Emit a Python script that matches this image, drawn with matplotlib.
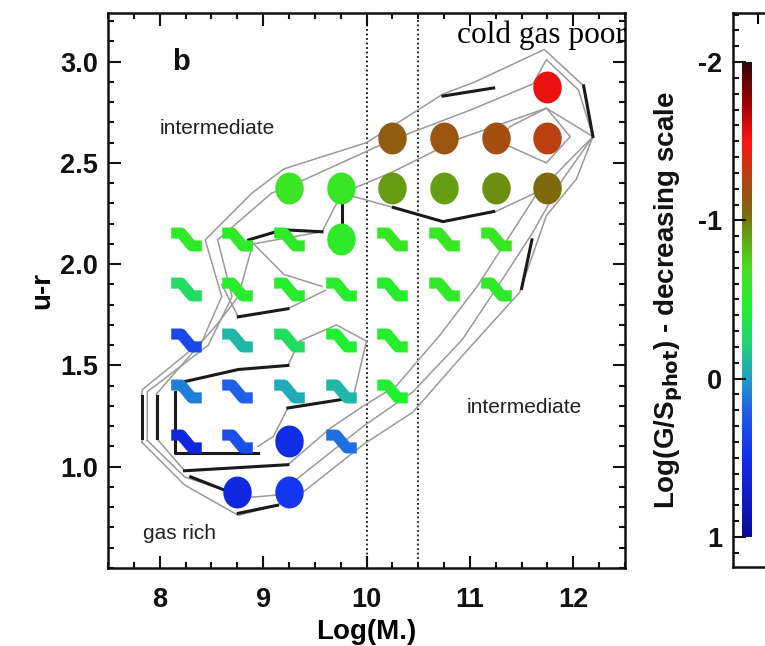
import matplotlib
matplotlib.use("Agg")
import matplotlib.pyplot as plt
import numpy as np
from matplotlib.colors import LinearSegmentedColormap
from matplotlib.path import Path

plt.rcParams["font.family"] = ["Liberation Sans", "DejaVu Sans"]

# binned points: stellar mass, u-r colour, log gas fraction, symbol
log_mass = [11.75,
            10.25, 10.75, 11.25, 11.75,
            9.25, 9.75, 10.25, 10.75, 11.25, 11.75,
            8.25, 8.75, 9.25, 9.75, 10.25, 10.75, 11.25,
            8.25, 8.75, 9.25, 9.75, 10.25, 10.75, 11.25,
            8.25, 8.75, 9.25, 9.75, 10.25,
            8.25, 8.75, 9.25, 9.75, 10.25,
            8.25, 8.75, 9.25, 9.75,
            8.75, 9.25]
u_r = [2.875,
       2.625, 2.625, 2.625, 2.625,
       2.375, 2.375, 2.375, 2.375, 2.375, 2.375,
       2.125, 2.125, 2.125, 2.125, 2.125, 2.125, 2.125,
       1.875, 1.875, 1.875, 1.875, 1.875, 1.875, 1.875,
       1.625, 1.625, 1.625, 1.625, 1.625,
       1.375, 1.375, 1.375, 1.375, 1.375,
       1.125, 1.125, 1.125, 1.125,
       0.875, 0.875]
gas_ratio = [-1.55,
             -1.12, -1.16, -1.2, -1.28,
             -0.62, -0.6, -0.92, -0.92, -0.95, -1.05,
             -0.55, -0.55, -0.55, -0.55, -0.6, -0.6, -0.6,
             -0.3, -0.5, -0.5, -0.5, -0.5, -0.55, -0.55,
             0.35, -0.1, -0.3, -0.45, -0.5,
             0.1, 0.2, -0.05, -0.1, -0.45,
             0.6, 0.3, 0.55, 0.15,
             0.6, 0.45]
symbol = ["o",
          "o", "o", "o", "o",
          "o", "o", "o", "o", "o", "o",
          "s", "s", "s", "o", "s", "s", "s",
          "s", "s", "s", "s", "s", "s", "s",
          "s", "s", "s", "s", "s",
          "s", "s", "s", "s", "s",
          "s", "s", "o", "s",
          "o", "o"]

# density contours (gray) and overlaid dark contour pieces
gray_contours = [
    [(7.83, 1.12), (7.83, 1.38), (8.41, 1.62), (8.6, 1.84), (8.44, 2.12), (8.89, 2.35),
     (9.2, 2.47), (10.0, 2.6), (10.74, 2.84), (11.05, 2.9), (11.72, 3.06), (12.1, 2.88),
     (12.19, 2.63), (12.03, 2.42), (11.74, 2.24), (11.48, 1.86), (10.93, 1.55),
     (10.45, 1.27), (9.97, 1.11), (9.4, 0.88), (9.14, 0.81), (8.76, 0.76), (8.24, 0.91),
     (7.83, 1.12)],
    [(7.88, 1.13), (7.88, 1.37), (8.47, 1.6), (8.7, 1.84), (8.56, 2.12), (9.08, 2.35),
     (9.41, 2.42), (10.23, 2.61), (11.0, 2.76), (11.61, 2.89), (11.74, 3.01), (12.05, 2.86),
     (12.19, 2.63), (11.9, 2.42), (11.6, 2.15), (11.32, 1.93), (10.93, 1.63), (10.45, 1.37),
     (9.97, 1.2), (9.6, 1.05), (9.13, 0.86), (8.9, 0.85), (8.65, 0.88), (8.24, 0.95),
     (7.88, 1.13)],
    [(7.97, 1.14), (7.97, 1.36), (8.55, 1.7), (8.76, 1.84), (8.9, 2.1), (9.57, 2.16),
     (9.76, 2.35), (10.23, 2.45), (10.9, 2.62), (11.74, 2.77), (12.19, 2.63), (11.65, 2.35),
     (11.07, 1.89), (10.71, 1.65), (10.29, 1.4), (9.97, 1.3), (9.65, 1.19), (9.24, 1.01),
     (8.24, 0.98), (7.97, 1.14)],
    [(11.25, 2.6), (11.39, 2.68), (11.74, 2.77), (11.97, 2.63), (11.74, 2.5), (11.39, 2.58),
     (11.25, 2.6)],
    [(11.25, 2.26), (11.5, 2.32), (11.75, 2.38)],
    [(8.89, 2.11), (9.2, 1.95), (9.57, 1.89)],
    [(8.6, 1.9), (8.76, 1.74), (9.24, 1.78), (9.6, 1.87)],
    [(9.24, 1.5), (9.35, 1.62), (9.71, 1.7), (10.0, 1.62), (9.87, 1.34)],
    [(9.24, 1.29), (9.1, 1.15), (8.95, 1.1)],
    [(9.76, 2.35), (10.26, 2.28)],
]
black_contours = [
    [(8.86, 2.12), (9.19, 2.17), (9.57, 2.16)],
    [(9.76, 2.3), (9.76, 2.19)],
    [(8.76, 1.74), (9.24, 1.78)],
    [(8.24, 1.42), (8.76, 1.48), (9.24, 1.5)],
    [(9.24, 1.29), (9.86, 1.34)],
    [(8.15, 1.37), (8.15, 1.07), (8.41, 1.07), (8.95, 1.07)],
    [(8.24, 0.98), (9.24, 1.01)],
    [(8.3, 0.95), (8.65, 0.88)],
    [(8.76, 0.77), (9.14, 0.81)],
    [(7.83, 1.35), (7.83, 1.14)],
    [(7.97, 1.35), (7.97, 1.14)],
    [(10.74, 2.83), (11.23, 2.87)],
    [(10.26, 2.28), (10.74, 2.21), (11.23, 2.26)],
    [(12.1, 2.88), (12.19, 2.63)],
    [(11.6, 2.12), (11.5, 1.88)],
]

# colour scale of the gas ratio (1 at bottom, -2 at top)
cbar_values = [1.0, 0.5, 0.2, 0.0, -0.2, -0.45, -0.7, -0.9, -1.05, -1.25, -1.5, -1.75, -2.0]
cbar_colors = ["#0a0a9a", "#1030f0", "#2060e8", "#20a0c8", "#20d080", "#20f030", "#48e020",
               "#62a412", "#80680f", "#b0460f", "#ff1515", "#a00000", "#300808"]

vmin, vmax = -2.0, 1.0
cmap = LinearSegmentedColormap.from_list(
    "gasratio",
    [((v - vmin) / (vmax - vmin), c) for v, c in sorted(zip(cbar_values, cbar_colors))],
)

ink = "#111111"
fig = plt.figure(figsize=(7.65, 6.46), dpi=100)
fig.patch.set_facecolor("white")
ax = fig.add_axes([108 / 765, 1 - 568 / 646, 517 / 765, 555 / 646])

for line in gray_contours:
    xs, ys = zip(*line)
    ax.plot(xs, ys, color="#9a9a9a", lw=1.1, zorder=2)
for line in black_contours:
    xs, ys = zip(*line)
    ax.plot(xs, ys, color="#1a1a1a", lw=2.2, zorder=2)

squiggle = Path([(-1.0, 0.42), (-0.35, 0.42), (0.35, -0.42), (1.0, -0.42)],
                [Path.MOVETO, Path.LINETO, Path.LINETO, Path.LINETO])
t = np.linspace(0, 2 * np.pi, 40)
blob = Path(np.column_stack([0.88 * np.cos(t), np.sin(t)]), closed=True)

for m, c, g, s in zip(log_mass, u_r, gas_ratio, symbol):
    col = cmap((g - vmin) / (vmax - vmin))
    if s == "o":
        ax.plot(m, c, marker=blob, ms=21, color=col, mec=col, mew=2, zorder=3)
    else:
        ax.plot(m, c, marker=squiggle, ms=22, color=col, mfc="none", mec=col,
                mew=8, zorder=3, solid_joinstyle="miter")

ax.axvline(10.0, color=ink, ls=(0, (1, 1.5)), lw=1.3, zorder=1)
ax.axvline(10.5, color=ink, ls=(0, (1, 1.5)), lw=1.3, zorder=1)

ax.set_xlim(7.5, 12.5)
ax.set_ylim(0.5, 3.24)
ax.set_xticks([8, 9, 10, 11, 12])
ax.set_xticks(np.arange(7.5, 12.51, 0.25), minor=True)
ax.set_yticks([1.0, 1.5, 2.0, 2.5, 3.0])
ax.set_yticklabels(["1.0", "1.5", "2.0", "2.5", "3.0"])
ax.set_yticks(np.arange(0.5, 3.25, 0.1), minor=True)
ax.tick_params(which="both", direction="in", top=True, right=True, colors=ink, width=1.5)
ax.tick_params(which="major", length=9, labelsize=19.5, pad=7)
ax.tick_params(axis="x", which="major", pad=14)
ax.tick_params(which="minor", length=4.5)
for lab in ax.get_xticklabels() + ax.get_yticklabels():
    lab.set_fontweight("bold")
for sp in ax.spines.values():
    sp.set_linewidth(1.8)
    sp.set_color(ink)
ax.set_xlabel("Log(M.)", fontsize=20, fontweight="bold", labelpad=4)
ax.set_ylabel("u-r", fontsize=20, fontweight="bold", labelpad=4)

ax.text(8.12, 3.0, "b", fontsize=21, fontweight="bold", va="center", color=ink)
ax.text(8.0, 2.67, "intermediate", fontsize=15, va="center", color="#222222")
ax.text(10.97, 1.29, "intermediate", fontsize=15, va="center", color="#222222")
ax.text(7.84, 0.67, "gas rich", fontsize=15, va="center", color="#222222")
ax.text(12.51, 3.13, "cold gas poor", fontsize=22.5, ha="right", va="center",
        family=["Liberation Serif", "DejaVu Serif"], color="black", zorder=5)

# colour bar panel (runs off the right edge)
cax = fig.add_axes([733 / 765, 1 - 567 / 646, 80 / 765, 554 / 646])
grad = np.linspace(vmin, vmax, 256).reshape(-1, 1)
cax.imshow((grad - vmin) / (vmax - vmin), cmap=cmap, vmin=0, vmax=1, aspect="auto",
           extent=[9, 19, 1.0, -2.0], origin="upper", interpolation="bilinear")
cax.set_xlim(0, 80)
cax.set_ylim(1.19, -2.31)
cax.set_yticks([-2, -1, 0, 1])
cax.set_yticklabels(["-2", "-1", "0", "1"])
cax.set_yticks(np.arange(-2.3, 1.2, 0.1), minor=True)
cax.set_xticks([25])
cax.tick_params(axis="x", which="both", direction="in", top=True, bottom=False,
                labeltop=False, labelbottom=False, length=8, width=1.5)
cax.tick_params(axis="y", which="both", direction="in", colors=ink, width=1.5)
cax.tick_params(axis="y", which="major", length=9, labelsize=19.5, pad=8)
cax.tick_params(axis="y", which="minor", length=4.5)
for lab in cax.get_yticklabels():
    lab.set_fontweight("bold")
for sp in cax.spines.values():
    sp.set_linewidth(1.8)
    sp.set_color(ink)
fig.text(669 / 765, 1 - 300 / 646, r"Log(G/S$_{\mathbf{phot}}$) - decreasing scale",
         rotation=90, fontsize=20, fontweight="bold", ha="center", va="center", color=ink)

fig.savefig("out.png", dpi=100, facecolor="white")
